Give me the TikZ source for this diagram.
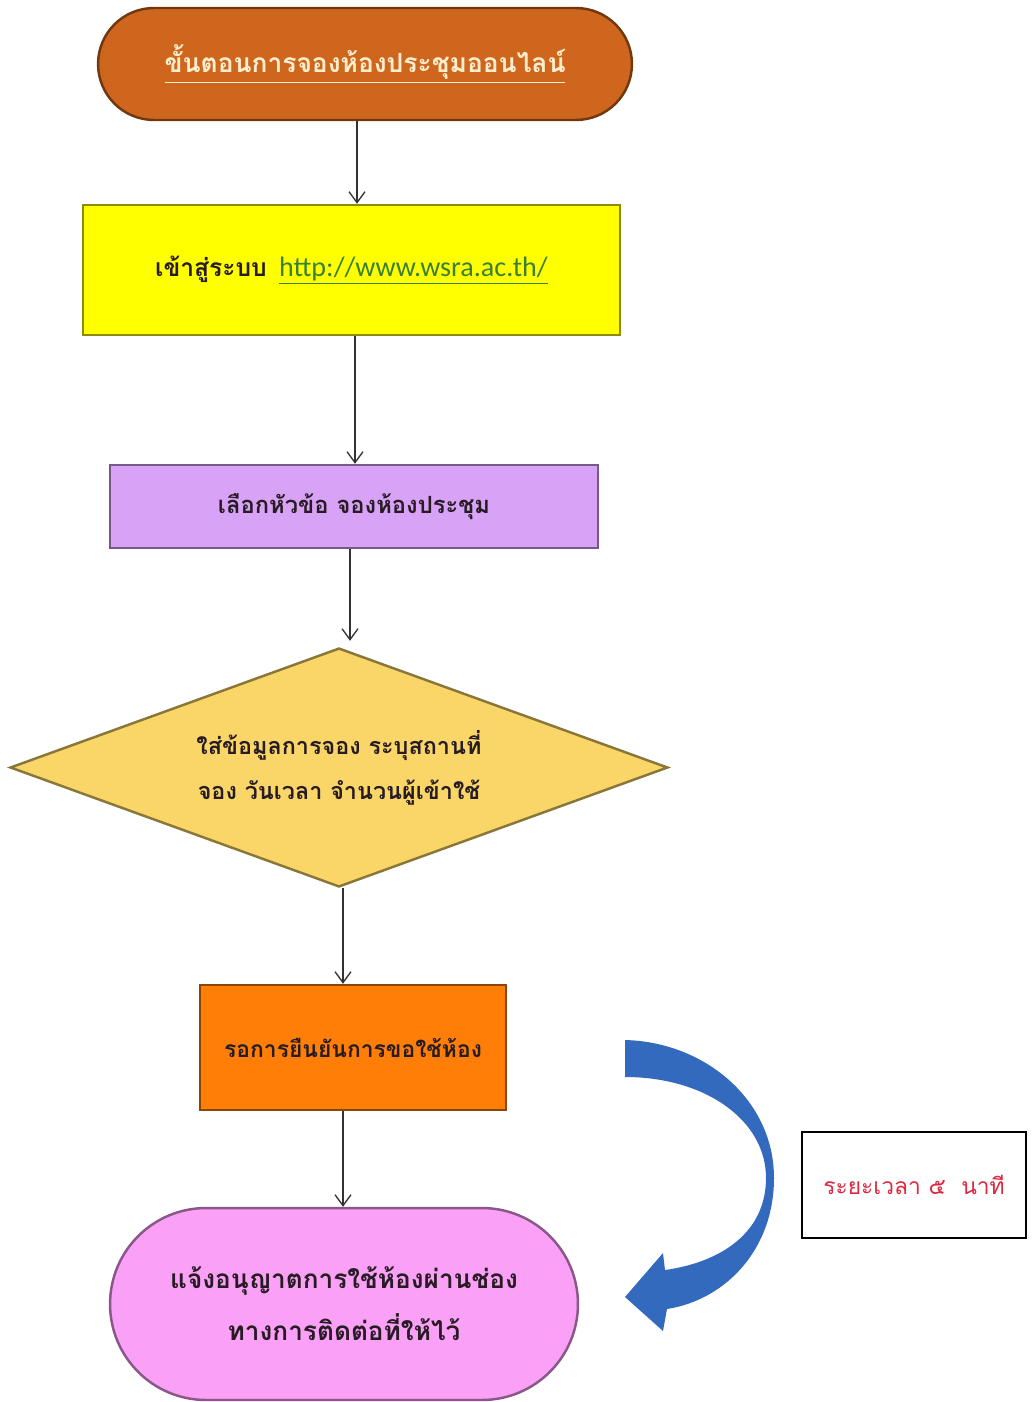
\documentclass[tikz,border=0pt]{standalone}
\usepackage{fontspec}
\usepackage{tikz}
\usetikzlibrary{shapes.geometric,shapes.misc,arrows.meta}
\newfontfamily\thaifont[Script=Thai]{Loma}
\newfontfamily\urlfont{Carlito}
\definecolor{titlefill}{RGB}{206,102,30}
\definecolor{titletext}{RGB}{255,238,205}
\definecolor{loginfill}{RGB}{255,255,0}
\definecolor{topicfill}{RGB}{216,162,246}
\definecolor{infofill}{RGB}{250,214,104}
\definecolor{waitfill}{RGB}{255,126,8}
\definecolor{notifyfill}{RGB}{250,160,246}
\definecolor{bendblue}{RGB}{52,106,190}
\definecolor{notered}{RGB}{222,40,64}
\definecolor{urlgreen}{RGB}{58,128,52}
\definecolor{textdark}{RGB}{40,28,36}
\definecolor{flowgray}{RGB}{50,50,50}

\begin{document}
\begin{tikzpicture}[x=0.02cm, y=-0.02cm,
    every node/.style={font=\thaifont\bfseries, text=textdark, align=center, inner sep=0pt},
    bevel/.style={draw=#1!55!black, fill=#1, line width=1.4pt},
    flow/.style={draw=flowgray, line width=0.75pt, -{Straight Barb[length=2.2mm,width=3.2mm]}}]
  \useasboundingbox (0,0) rectangle (1034,1402);

  % steps
  \node[bevel=titlefill, rounded rectangle, minimum width=10.68cm, minimum height=2.24cm,
        font=\thaifont\bfseries\fontsize{15}{18}\selectfont, text=titletext] (title) at (365,64)
        {\underline{ขั้นตอนการจองห้องประชุมออนไลน์}};
  \node[bevel=loginfill, rectangle, minimum width=10.74cm, minimum height=2.6cm,
        font=\thaifont\bfseries\fontsize{14}{17}\selectfont] (login) at (351.5,270)
        {เข้าสู่ระบบ\hspace{0.5em}{\urlfont\mdseries\fontsize{16}{19}\selectfont\color{urlgreen}\underline{http://www.wsra.ac.th/}}};
  \node[bevel=topicfill, rectangle, minimum width=9.76cm, minimum height=1.66cm,
        font=\thaifont\bfseries\fontsize{13.5}{16}\selectfont] (topic) at (354,506.5)
        {เลือกหัวข้อ จองห้องประชุม};
  \node[bevel=infofill, diamond, aspect=2.75, minimum width=13.16cm, minimum height=4.78cm,
        font=\thaifont\bfseries\fontsize{13.3}{25.5}\selectfont] (info) at (339,767.5)
        {ใส่ข้อมูลการจอง ระบุสถานที่\\จอง วันเวลา จำนวนผู้เข้าใช้};
  \node[bevel=waitfill, rectangle, minimum width=6.12cm, minimum height=2.5cm,
        font=\thaifont\bfseries\fontsize{13}{16}\selectfont] (wait) at (353,1047.5)
        {รอการยืนยันการขอใช้ห้อง};
  \node[bevel=notifyfill, rounded rectangle, minimum width=9.36cm, minimum height=3.84cm,
        font=\thaifont\bfseries\fontsize{14.9}{29.5}\selectfont] (notify) at (344,1304)
        {แจ้งอนุญาตการใช้ห้องผ่านช่อง\\ทางการติดต่อที่ให้ไว้};
  \node[draw=black, fill=white, line width=0.8pt, minimum width=4.48cm, minimum height=2.12cm,
        font=\thaifont\fontsize{13}{16}\selectfont, text=notered] (note) at (914,1185)
        {ระยะเวลา ๕~~นาที};

  % connectors
  \coordinate (f1) at ([xshift=-0.16cm]title.south);
  \coordinate (f2) at ([xshift=0.07cm]login.south);
  \coordinate (f3) at ([xshift=-0.08cm]topic.south);
  \coordinate (f4) at ([xshift=0.08cm]info.south);
  \coordinate (f5) at ([xshift=-0.2cm]wait.south);
  \draw[flow] (f1) -- (f1 |- login.north);
  \draw[flow] (f2) -- (f2 |- topic.north);
  \draw[flow] (f3) -- ([yshift=0.12cm]f3 |- info.north);
  \draw[flow] (f4) -- (f4 |- wait.north);
  \draw[flow] (f5) -- (f5 |- notify.north);

  % curved block arrow
  \fill[bendblue] (625,1040) .. controls (705,1042) and (774,1100) .. (774,1178)
    .. controls (774,1250) and (725,1300) .. (667,1309)
    -- (663,1331) -- (625,1297) -- (663,1253) -- (665,1270)
    .. controls (722,1262) and (766,1232) .. (766,1178)
    .. controls (766,1120) and (705,1077) .. (625,1077) -- cycle;
\end{tikzpicture}
\end{document}
